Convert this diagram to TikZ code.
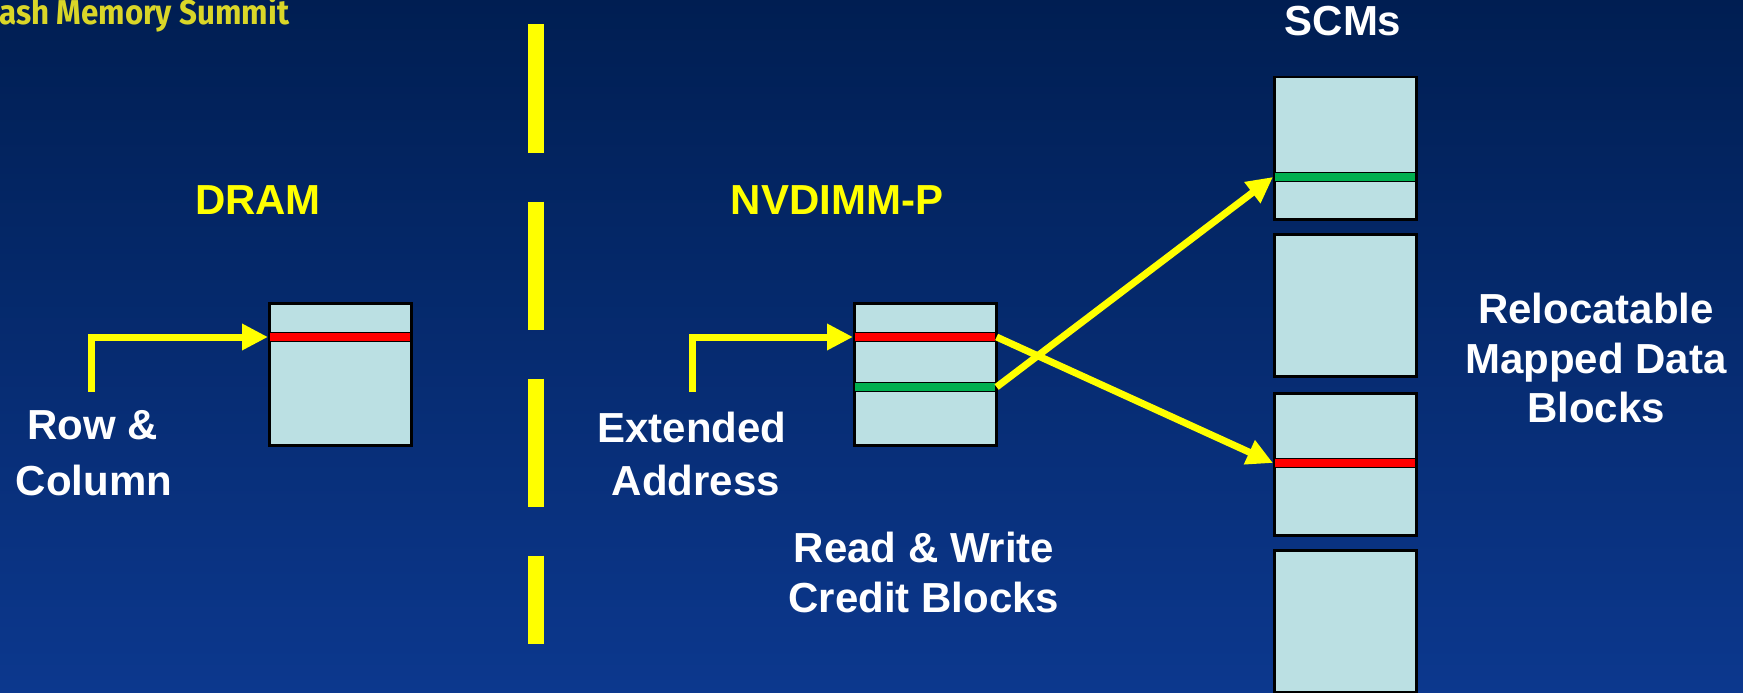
\documentclass[tikz,border=0pt]{standalone}
\usepackage{fontspec}
\setmainfont{Liberation Sans}
\newfontfamily\headfont{Fira Sans}
\usetikzlibrary{arrows.meta}

\definecolor{bgtop}{RGB}{0,30,82}
\definecolor{bgbot}{RGB}{12,56,142}
\definecolor{cellfill}{RGB}{187,224,227}
\definecolor{rowred}{RGB}{255,0,0}
\definecolor{rowgreen}{RGB}{0,176,80}
\definecolor{hiyellow}{RGB}{255,255,0}
\definecolor{titleyellow}{RGB}{218,214,40}

\begin{document}
\begin{tikzpicture}[x=1pt,y=-1pt,
  memblock/.style={rectangle, draw=black, line width=2.5pt, fill=cellfill,
    minimum width=142pt, minimum height=142pt, inner sep=0pt, anchor=north west},
  rowbar/.style={rectangle, draw=black, line width=1.6pt,
    minimum width=142pt, minimum height=9pt, inner sep=0pt, anchor=west},
  redbar/.style={rowbar, fill=rowred},
  greenbar/.style={rowbar, fill=rowgreen},
  label/.style={font=\fontsize{42}{50}\selectfont\bfseries, text=white,
    inner sep=0pt, anchor=base},
  headlabel/.style={label, text=hiyellow},
  feed/.style={draw=hiyellow, line width=7pt, miter limit=10,
    -{Triangle[length=26pt,width=25pt]}},
]
% slide background
\useasboundingbox (0,0) rectangle (1743,693);
\fill[top color=bgtop, bottom color=bgbot] (0,0) rectangle (1743,693);

% conference banner, cut at the slide edge
\node[anchor=base west, inner sep=0pt, text=titleyellow] (banner) at (-1,25)
  {\resizebox{290pt}{28pt}{\headfont\bfseries ash Memory Summit}};

% dashed separator between the two address schemes
\draw[hiyellow, line width=16pt, dash pattern=on 128pt off 49pt]
  (536,24.5) -- (536,643.5);

% ---- DRAM side ----
\node[headlabel] (dramlbl) at (258,214) {DRAM};
\node[memblock] (dram) at (268,302) {};
\node[redbar] (dramrow) at (dram.west |- 0,337) {};
\coordinate (dramsrc) at (91,392);
\draw[feed] (dramsrc) |- (dramrow.west);
\node[label] (rowA) at (93,439) {Row \&};
\node[label] (rowB) at (94,495) {Column};

% ---- NVDIMM-P side ----
\node[headlabel] (nvlbl) at (837,214) {NVDIMM-P};
\node[memblock] (nv) at (853,302) {};
\node[redbar] (nvred) at (nv.west |- 0,337) {};
\node[greenbar] (nvgreen) at (nv.west |- 0,387) {};
\coordinate (nvsrc) at (692,392);
\draw[feed] (nvsrc) |- (nvred.west);
\node[label] (extA) at (692,442) {Extended};
\node[label] (extB) at (696,495) {Address};
\node[label] (rwA) at (924,562) {Read \& Write};
\node[label] (rwB) at (924,612) {Credit Blocks};

% ---- SCM blocks ----
\node[label] (scmlbl) at (1343,36) {SCMs};
\node[memblock] (scm1) at (1273,76) {};
\node[memblock] (scm2) at (1273,233) {};
\node[memblock] (scm3) at (1273,392) {};
\node[memblock] (scm4) at (1273,549) {};
\node[greenbar] (scmgreen) at (scm1.west |- 0,177) {};
\node[redbar] (scmred) at (scm3.west |- 0,463) {};
\node[label] (relA) at (1596,323) {Relocatable};
\node[label] (relB) at (1596,373) {Mapped Data};
\node[label] (relC) at (1596,422) {Blocks};

% remapping of the credit rows to SCM rows
\draw[feed] (nvred.east) -- (scmred.west);
\draw[feed] (nvgreen.east) -- (scmgreen.west);
\end{tikzpicture}
\end{document}
